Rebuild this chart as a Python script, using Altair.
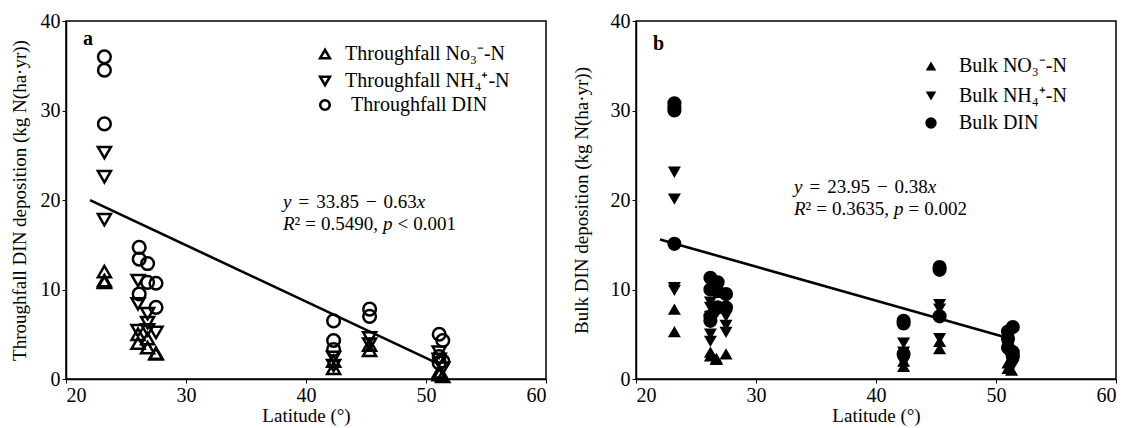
import altair as alt
import pandas as pd

FONT = "Liberation Serif"
FS = 19
LFS = 20

# ---------------- Panel a: throughfall ----------------
a_labels = ["Throughfall No\u2083\u207b-N", "Throughfall NH\u2084\u207a-N", "Throughfall DIN"]
a_no3_lat = [23.2, 23.2, 23.2, 26.0, 26.0, 26.8, 26.8, 27.5, 27.5, 42.3, 42.3, 45.3, 45.3, 51.1, 51.1, 51.4]
a_no3_val = [12.0, 11.0, 10.8, 5.0, 4.0, 4.5, 3.5, 2.9, 2.8, 2.0, 1.2, 3.8, 3.2, 0.8, 0.5, 0.3]
a_nh4_lat = [23.2, 23.2, 23.2, 26.0, 26.0, 26.0, 26.8, 26.8, 26.8, 27.5, 42.3, 42.3, 45.3, 45.3, 51.1, 51.1, 51.4]
a_nh4_val = [25.3, 22.6, 17.8, 11.0, 8.4, 5.4, 7.3, 6.3, 5.5, 5.2, 2.4, 1.5, 4.6, 3.9, 3.0, 2.2, 1.2]
a_din_lat = [23.2, 23.2, 23.2, 26.1, 26.1, 26.1, 26.8, 26.8, 27.5, 27.5, 42.3, 42.3, 42.3, 45.3, 45.3, 51.1, 51.1, 51.1, 51.4, 51.4]
a_din_val = [36.0, 34.5, 28.5, 14.7, 13.4, 9.5, 12.9, 10.8, 10.7, 8.0, 6.5, 4.3, 3.3, 7.8, 7.0, 5.0, 2.5, 1.8, 4.3, 2.0]
a_line_lat = [22.0, 51.0]
a_line_val = [19.99, 1.72]
# (token, italic, gap before)
a_eq1 = [("y", True, 0), ("=", False, 7), ("33.85", False, 7), ("\u2212", False, 7), ("0.63", False, 7), ("x", True, 0)]
a_eq2 = [("R", True, 0), ("\u00b2", False, 0), ("=", False, 5), ("0.5490,", False, 5), ("p", True, 5), ("<", False, 5), ("0.001", False, 5)]
a_ytitle = "Throughfall DIN deposition (kg N(ha\u00b7yr))"

# ---------------- Panel b: bulk ----------------
b_labels = ["Bulk NO\u2083\u207b-N", "Bulk NH\u2084\u207a-N", "Bulk DIN"]
b_no3_lat = [23.2, 23.2, 26.2, 26.2, 26.7, 26.7, 27.5, 42.3, 42.3, 45.3, 45.3, 51.0, 51.0, 51.3]
b_no3_val = [7.8, 5.3, 3.0, 2.6, 2.3, 2.2, 2.8, 2.0, 1.4, 4.2, 3.4, 1.8, 1.2, 1.0]
b_nh4_lat = [23.2, 23.2, 23.2, 23.2, 26.2, 26.2, 26.2, 26.2, 26.2, 26.8, 27.5, 27.5, 27.5, 42.3, 42.3, 42.3, 45.3, 45.3, 45.3, 51.0, 51.0, 51.4, 51.4]
b_nh4_val = [23.1, 20.1, 10.2, 9.9, 8.6, 8.0, 7.0, 5.0, 4.2, 7.5, 7.0, 6.0, 5.2, 4.0, 3.0, 1.8, 8.3, 7.8, 4.5, 3.5, 2.8, 2.0, 1.5]
b_din_lat = [23.2, 23.2, 23.2, 23.2, 26.2, 26.2, 26.2, 26.2, 26.8, 26.8, 26.8, 27.5, 27.5, 42.3, 42.3, 42.3, 45.3, 45.3, 45.3, 51.0, 51.0, 51.0, 51.4, 51.4, 51.4]
b_din_val = [30.8, 30.4, 30.0, 15.1, 11.3, 10.0, 7.0, 6.5, 10.8, 9.8, 8.0, 9.5, 8.0, 6.5, 6.2, 2.8, 12.5, 12.2, 7.0, 5.3, 4.5, 3.5, 5.8, 3.0, 2.5]
b_line_lat = [22.0, 51.0]
b_line_val = [15.59, 4.57]
b_eq1 = [("y", True, 0), ("=", False, 7), ("23.95", False, 7), ("\u2212", False, 7), ("0.38", False, 7), ("x", True, 0)]
b_eq2 = [("R", True, 0), ("\u00b2", False, 0), ("=", False, 5), ("0.3635,", False, 5), ("p", True, 5), ("=", False, 5), ("0.002", False, 5)]
b_ytitle = "Bulk DIN deposition (kg N(ha\u00b7yr))"

x_ticks = [20, 30, 40, 50, 60]
y_ticks = [0, 10, 20, 30, 40]
SHAPES = ["triangle-up", "triangle-down", "circle"]

# Times metrics (per 1000 em) for placing mixed italic pieces
W = {"=": 564, "\u2212": 564, ".": 250, ",": 250, "<": 564, "\u00b2": 300,
     "y": 444, "x": 444, "R": 611, "p": 500}


def text_width(s, size):
    return sum(W.get(ch, 500) for ch in s) * size / 1000.0


def pieces(parts, x0, y0, size):
    layers = []
    off = 0.0
    for txt, ital, gap in parts:
        off += gap
        layers.append(
            alt.Chart(pd.DataFrame({"t": [txt]})).mark_text(
                align="left", baseline="middle", font=FONT, fontSize=size,
                fontStyle="italic" if ital else "normal", color="black"
            ).encode(x=alt.value(x0 + off), y=alt.value(y0), text="t:N")
        )
        off += text_width(txt, size)
    return layers


def legend_layers(labels, filled, sx, tx, rows, sizes):
    out = []
    for i, lab in enumerate(labels):
        d = pd.DataFrame({"t": [lab]})
        out.append(
            alt.Chart(d).mark_point(
                shape=SHAPES[i], filled=filled, color="black",
                strokeWidth=0 if filled else 2.6, size=sizes[i], opacity=1
            ).encode(x=alt.value(sx), y=alt.value(rows[i]))
        )
        out.append(
            alt.Chart(d).mark_text(
                align="left", baseline="middle", font=FONT, fontSize=LFS, color="black"
            ).encode(x=alt.value(tx[i]), y=alt.value(rows[i]), text="t:N")
        )
    return out


def panel(labels, series, line_lat, line_val, ytitle, filled, letter, lety, eq1, eq2, eqx, eqy,
          leg_sx, leg_tx, leg_rows, ytitle_pad):
    rows = []
    for lab, (lats, vals) in zip(labels, series):
        for la, v in zip(lats, vals):
            rows.append({"lat": la, "val": v, "series": lab})
    df = pd.DataFrame(rows)
    xsc = alt.Scale(domain=[20, 60], nice=False, zero=False)
    ysc = alt.Scale(domain=[0, 40], nice=False)
    xax = alt.Axis(values=x_ticks, title="Latitude (\u00b0)", format="d")
    yax = alt.Axis(values=y_ticks, title=ytitle, format="d", titlePadding=ytitle_pad)
    sizes = [170, 170, 200] if filled else [170, 170, 160]
    layers = []
    for i, lab in enumerate(labels):
        sub = df[df["series"] == lab]
        layers.append(
            alt.Chart(sub).mark_point(
                shape=SHAPES[i], filled=filled, color="black",
                strokeWidth=0 if filled else 2.5, size=sizes[i], opacity=1
            ).encode(
                x=alt.X("lat:Q", scale=xsc, axis=xax),
                y=alt.Y("val:Q", scale=ysc, axis=yax),
            )
        )
    ln = alt.Chart(pd.DataFrame({"lat": line_lat, "val": line_val})).mark_line(
        color="black", strokeWidth=2.6
    ).encode(x=alt.X("lat:Q", scale=xsc, axis=xax), y=alt.Y("val:Q", scale=ysc, axis=yax))
    let = alt.Chart(pd.DataFrame({"t": [letter]})).mark_text(
        align="left", baseline="middle", font=FONT, fontSize=20, fontWeight="bold", color="black"
    ).encode(x=alt.value(17), y=alt.value(lety), text="t:N")
    leg_sizes = [110, 110, 130] if filled else [95, 95, 90]
    allayers = ([ln] + layers + [let] + pieces(eq1, eqx, eqy, FS) + pieces(eq2, eqx, eqy + 22, FS)
                + legend_layers(labels, filled, leg_sx, leg_tx, leg_rows, leg_sizes))
    return alt.layer(*allayers).properties(width=480, height=358)


pa = panel(a_labels, [(a_no3_lat, a_no3_val), (a_nh4_lat, a_nh4_val), (a_din_lat, a_din_val)],
           a_line_lat, a_line_val, a_ytitle, False, "a", 18, a_eq1, a_eq2, 217, 181,
           259, [279, 279, 285], [33, 60, 84], 11)
pb = panel(b_labels, [(b_no3_lat, b_no3_val), (b_nh4_lat, b_nh4_val), (b_din_lat, b_din_val)],
           b_line_lat, b_line_val, b_ytitle, True, "b", 23, b_eq1, b_eq2, 158, 166,
           295, [323, 323, 323], [45, 75, 102], 19)

chart = alt.hconcat(pa, pb, spacing=23).properties(
    padding={"left": 9, "top": 10, "right": 0, "bottom": 0}, background="white"
).configure_axis(
    labelFont=FONT, titleFont=FONT, labelFontSize=LFS, titleFontSize=FS,
    labelColor="black", titleColor="black", titleFontWeight="normal",
    domainColor="black", tickColor="black", domainWidth=1.5, tickWidth=1,
    tickSize=4, grid=False, labelPadding=2,
).configure_axisX(titlePadding=1).configure_view(
    stroke="black", strokeWidth=1.5
)

chart.save("out.html", embed_options={"renderer": "svg", "actions": False})
